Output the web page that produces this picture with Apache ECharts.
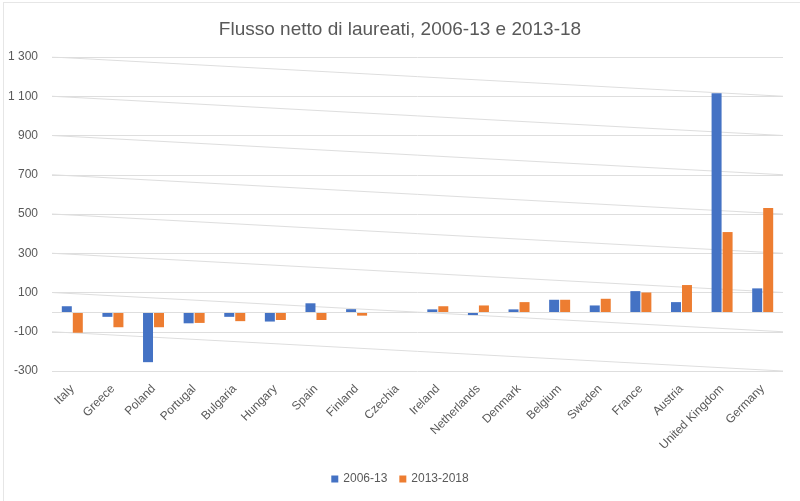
<!DOCTYPE html>
<html>
<head>
<meta charset="utf-8">
<script src="https://cdn.jsdelivr.net/npm/echarts@6/dist/echarts.min.js"></script>
<style>
html,body{margin:0;padding:0;background:#fff;}
#wrap{position:relative;width:800px;height:501px;}
#chart{position:absolute;left:0;top:0;width:800px;height:501px;}
#frame{position:absolute;left:3px;top:2px;width:797px;height:499px;border-top:1px solid #e6e6e6;border-left:1px solid #e6e6e6;box-sizing:border-box;pointer-events:none;}
</style>
</head>
<body>
<div id="wrap"><div id="chart"></div><div id="frame"></div></div>
<script>
const categories = ['Italy','Greece','Poland','Portugal','Bulgaria','Hungary','Spain','Finland','Czechia','Ireland','Netherlands','Denmark','Belgium','Sweden','France','Austria','United Kingdom','Germany'];
const series2006 = [30, -24, -255, -57, -24, -48, 45, 15, 0, 14, -15, 14, 63, 34, 107, 51, 1115, 121];
const series2013 = [-105, -77, -77, -55, -46, -40, -40, -18, 0, 30, 34, 51, 63, 68, 100, 138, 408, 530];
const yTickLabels = ['-300', '-100', '100', '300', '500', '700', '900', '1 100', '1 300'];
const yTickValues = [-300, -100, 100, 300, 500, 700, 900, 1100, 1300];

const gridColor = '#dedede';
const textColor = '#595959';
const font = 'Liberation Sans';

// slanted guide lines: each starts at a tick on the left and ends one tick lower on the right
const slantSeries = [];
for (let i = yTickValues.length - 1; i >= 1; i--) {
  slantSeries.push({
    type: 'line',
    xAxisIndex: 1,
    yAxisIndex: 0,
    symbol: 'none',
    silent: true,
    z: 1,
    lineStyle: { color: gridColor, width: 1 },
    data: [[0, yTickValues[i]], [1, yTickValues[i - 1]]]
  });
}

const chart = echarts.init(document.getElementById('chart'));
chart.setOption({
  animation: false,
  backgroundColor: '#fff',
  title: {
    text: 'Flusso netto di laureati, 2006-13 e 2013-18',
    left: 'center',
    top: 15,
    textStyle: { fontFamily: font, fontSize: 19, fontWeight: 'normal', color: textColor }
  },
  legend: {
    data: ['2006-13', '2013-2018'],
    bottom: 11,
    left: 'center',
    icon: 'rect',
    itemWidth: 7,
    itemHeight: 7,
    itemGap: 12,
    textStyle: { fontFamily: font, fontSize: 12, color: textColor }
  },
  grid: { left: 52, right: 17, top: 57, bottom: 130 },
  xAxis: [
    {
      type: 'category',
      data: categories,
      axisLine: { show: false, onZero: false },
      axisTick: { show: false },
      axisLabel: { rotate: 45, margin: 16, interval: 0, color: textColor, fontFamily: font, fontSize: 12 }
    },
    { type: 'value', min: 0, max: 1, show: false }
  ],
  yAxis: [
    {
      type: 'value', min: -300, max: 1300,
      axisLabel: { show: false }, splitLine: { show: false },
      axisLine: { show: false }, axisTick: { show: false }
    },
    {
      type: 'value', min: 0, max: 1600, interval: 200, position: 'left',
      axisLine: { show: false }, axisTick: { show: false },
      splitLine: { show: true, lineStyle: { color: gridColor, width: 1 } },
      axisLabel: {
        margin: 14, color: textColor, fontFamily: font, fontSize: 12,
        formatter: function (v) { return yTickLabels[Math.round(v / 200)]; }
      }
    }
  ],
  series: [
    {
      name: '2006-13', type: 'bar', data: series2006, barWidth: 10, barGap: '10%',
      itemStyle: { color: '#4472C4' }, z: 3,
      markLine: {
        silent: true, symbol: 'none', label: { show: false },
        lineStyle: { color: gridColor, type: 'solid', width: 1 },
        data: [{ yAxis: 0 }]
      }
    },
    {
      name: '2013-2018', type: 'bar', data: series2013, barWidth: 10,
      itemStyle: { color: '#ED7D31' }, z: 3
    }
  ].concat(slantSeries)
});
</script>
</body>
</html>
